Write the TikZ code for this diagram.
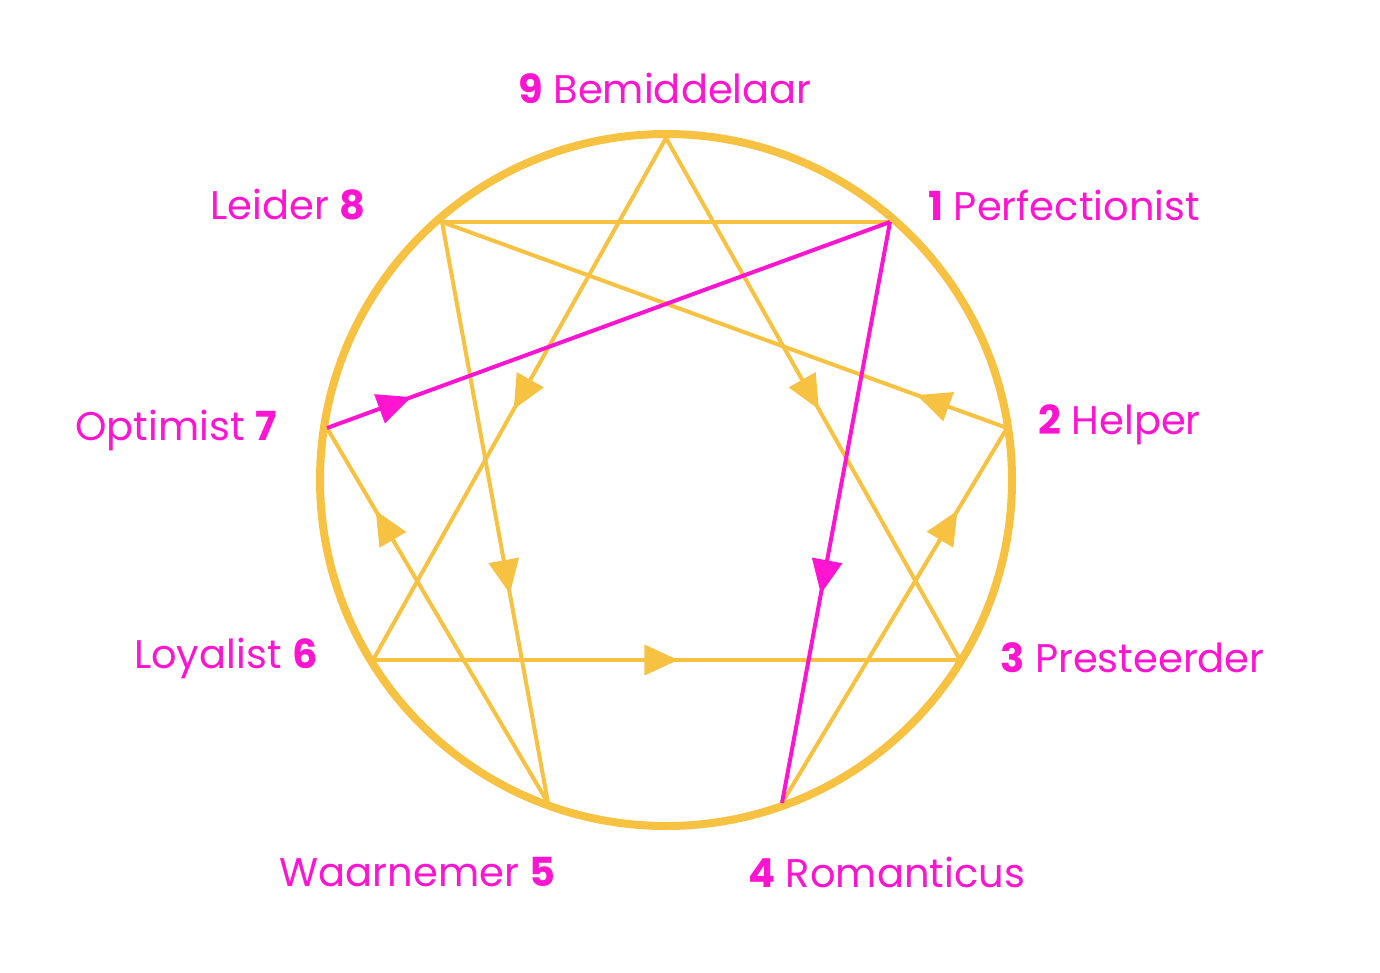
\documentclass[tikz,border=0pt]{standalone}
\usepackage{fontspec}
\setmainfont{Poppins}
\usetikzlibrary{decorations.markings,arrows.meta}
\definecolor{gold}{HTML}{F7C242}
\definecolor{mag}{HTML}{FF14D2}
\tikzset{
  lbl/.style={text=mag,font=\fontsize{40}{44}\selectfont,inner sep=0pt},
  mk/.style 2 args={decoration={markings,mark=at position #1 with {\arrow{Triangle[length=34pt,width=30pt]}}},postaction={decorate},draw=#2,fill=none,line width=4pt},
}
\begin{document}
\begin{tikzpicture}[x=1pt,y=-1pt]
\useasboundingbox (0,0) rectangle (1380,972);
\coordinate (p9) at (666,138);
\coordinate (p1) at (890,222);
\coordinate (p2) at (1007,428);
\coordinate (p3) at (960,660);
\coordinate (p4) at (782,803);
\coordinate (p5) at (548,803);
\coordinate (p6) at (373,660);
\coordinate (p7) at (327,428);
\coordinate (p8) at (442,222);
\draw[gold,line width=8pt] (666,480) circle (346);
\begin{scope}[fill=gold]
\draw[mk={0.52}{gold},fill=gold] (p9) -- (p6);
\draw[mk={0.52}{gold},fill=gold] (p9) -- (p3);
\draw[mk={0.52}{gold},fill=gold] (p6) -- (p3);
\draw[mk={0.64}{gold},fill=gold] (p8) -- (p5);
\draw[mk={0.78}{gold},fill=gold] (p5) -- (p7);
\draw[mk={0.78}{gold},fill=gold] (p4) -- (p2);
\draw[mk={0.16}{gold},fill=gold] (p2) -- (p8);
\draw[gold,line width=4pt] (p8) -- (p1);
\end{scope}
\draw[mk={0.64}{mag},fill=mag] (p1) -- (p4);
\draw[mk={0.15}{mag},fill=mag] (p7) -- (p1);
\node[lbl] (l9) at (665,88) {\textbf{9} Bemiddelaar};
\node[lbl,anchor=west] (l1) at (928,205) {\textbf{1} Perfectionist};
\node[lbl,anchor=east] (l8) at (366,205) {Leider \textbf{8}};
\node[lbl,anchor=west] (l2) at (1038,425) {\textbf{2} Helper};
\node[lbl,anchor=east] (l7) at (277,430) {Optimist \textbf{7}};
\node[lbl,anchor=west] (l3) at (1000,658) {\textbf{3} Presteerder};
\node[lbl,anchor=east] (l6) at (318,658) {Loyalist \textbf{6}};
\node[lbl,anchor=east] (l5) at (556,872) {Waarnemer \textbf{5}};
\node[lbl,anchor=west] (l4) at (748,872) {\textbf{4} Romanticus};
\end{tikzpicture}
\end{document}
